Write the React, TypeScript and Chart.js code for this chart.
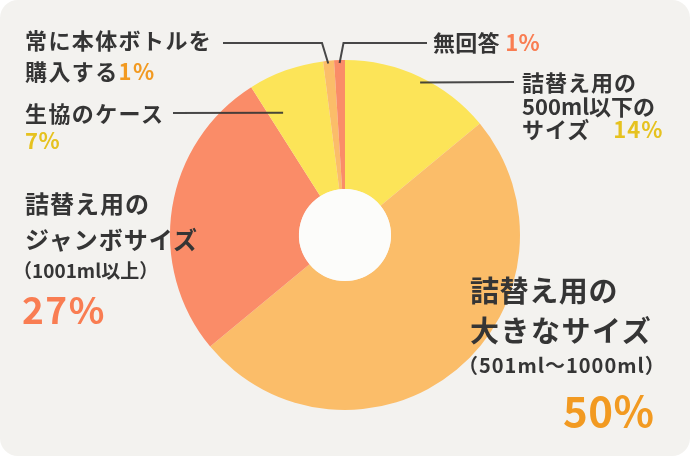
import { useEffect, useRef } from "react"
import { Chart, ArcElement, DoughnutController, type ChartConfiguration, type Plugin } from "chart.js"

Chart.register(ArcElement, DoughnutController)

// slices, clockwise from 12 o'clock
const categories = [
  "詰替え用の500ml以下のサイズ",
  "詰替え用の大きなサイズ（501ml〜1000ml）",
  "詰替え用のジャンボサイズ（1001ml以上）",
  "生協のケース",
  "常に本体ボトルを購入する",
  "無回答",
]
const shares = [14, 50, 27, 7, 1, 1]
const sliceColors = ["#FCE458", "#FBBD69", "#FA8C68", "#FCE458", "#FBBD69", "#FA8C68"]

const FONT = '"Noto Sans CJK JP", "Noto Sans", sans-serif'
const TEXT = "#353535"
const BG = "#F3F2EF"
const HOLE = "#FCFCFA"
const ORANGE = "#F29A21"
const YELLOW = "#E6C21F"
const SALMON = "#F97D52"

// leader lines: slice index, position along the slice (0..1), radius fraction, then bend points
const leaders = [
  { index: 4, t: 0.45, r: 0.985, path: [[322, 43], [223, 43]] },
  { index: 5, t: 0.5, r: 0.983, path: [[343.5, 43], [427, 43]] },
  { index: 0, t: 0.52, r: 0.972, path: [[514, 82]] },
  { index: 3, t: 0.22, r: 0.783, path: [[173, 113]] },
]

const overlay: Plugin<"doughnut"> = {
  id: "overlay",
  afterDatasetsDraw(chart) {
    const ctx = chart.ctx
    const arcs = chart.getDatasetMeta(0).data as any[]
    const { x, y, innerRadius, outerRadius } = arcs[0].getProps(["x", "y", "innerRadius", "outerRadius"], true)
    ctx.save()
    ctx.fillStyle = HOLE
    ctx.beginPath()
    ctx.arc(x, y, innerRadius, 0, Math.PI * 2)
    ctx.fill()

    ctx.strokeStyle = "rgba(52,52,52,0.9)"
    ctx.lineWidth = 2
    for (const l of leaders) {
      const { startAngle, endAngle } = arcs[l.index].getProps(["startAngle", "endAngle"], true)
      const a = startAngle + (endAngle - startAngle) * l.t
      ctx.beginPath()
      ctx.moveTo(x + Math.cos(a) * outerRadius * l.r, y + Math.sin(a) * outerRadius * l.r)
      for (const [px, py] of l.path) ctx.lineTo(px, py)
      ctx.stroke()
    }
    ctx.restore()
  },
}

type LineProps = {
  x: number
  cy: number
  size: number
  spacing?: number
  children: React.ReactNode
}

function Line({ x, cy, size, spacing = 0, children }: LineProps) {
  return (
    <div
      style={{
        position: "absolute",
        left: x,
        top: cy - size * 0.576,
        fontSize: size,
        lineHeight: `${size}px`,
        letterSpacing: spacing,
        fontWeight: 700,
        whiteSpace: "nowrap",
        color: TEXT,
      }}
    >
      {children}
    </div>
  )
}

function Pct({ color, children }: { color: string; children: React.ReactNode }) {
  return <span style={{ color }}>{children}</span>
}

export default function App() {
  const chartRef = useRef<HTMLCanvasElement>(null)
  const chartInstance = useRef<Chart | null>(null)

  useEffect(() => {
    if (!chartRef.current) return
    if (chartInstance.current) chartInstance.current.destroy()
    const ctx = chartRef.current.getContext("2d")
    if (!ctx) return

    const config: ChartConfiguration<"doughnut"> = {
      type: "doughnut",
      data: {
        labels: categories,
        datasets: [
          {
            data: shares,
            backgroundColor: sliceColors,
            borderWidth: 0,
          },
        ],
      },
      options: {
        responsive: false,
        animation: false,
        events: [],
        cutout: "26.3%",
        layout: { padding: { left: 170, right: 170, top: 60, bottom: 46 } },
        plugins: { legend: { display: false }, tooltip: { enabled: false } },
      },
      plugins: [overlay],
    }

    chartInstance.current = new Chart(ctx, config)
    return () => {
      chartInstance.current?.destroy()
      chartInstance.current = null
    }
  }, [])

  return (
    <div
      style={{
        position: "absolute",
        left: 0,
        top: 0,
        width: 690,
        height: 456,
        background: BG,
        borderRadius: 18,
        overflow: "hidden",
        fontFamily: FONT,
      }}
    >
      <canvas ref={chartRef} width={690} height={456} style={{ position: "absolute", left: 0, top: 0 }} />

      <Line x={25} cy={41} size={22} spacing={1.4}>常に本体ボトルを</Line>
      <Line x={25} cy={72} size={22} spacing={1.4}>
        購入する<Pct color={ORANGE}>1%</Pct>
      </Line>

      <Line x={25} cy={114} size={22} spacing={1.4}>生協のケース</Line>
      <Line x={25} cy={141} size={22} spacing={0.5}>
        <Pct color={YELLOW}>7%</Pct>
      </Line>

      <Line x={433} cy={43} size={22} spacing={0.3}>
        無回答 <Pct color={SALMON}>1%</Pct>
      </Line>

      <Line x={522} cy={83} size={22} spacing={1}>詰替え用の</Line>
      <Line x={522} cy={107} size={22} spacing={0}>500ml以下の</Line>
      <Line x={522} cy={130} size={22} spacing={1}>
        サイズ　<Pct color={YELLOW}>14%</Pct>
      </Line>

      <Line x={25} cy={205} size={24} spacing={1}>詰替え用の</Line>
      <Line x={25} cy={241} size={24} spacing={1}>ジャンボサイズ</Line>
      <Line x={13} cy={271} size={19} spacing={0}>（1001ml以上）</Line>
      <Line x={22} cy={311} size={37} spacing={1.5}>
        <Pct color={SALMON}>27%</Pct>
      </Line>

      <Line x={470} cy={292} size={29} spacing={0.6}>詰替え用の</Line>
      <Line x={470} cy={332} size={29} spacing={1.5}>大きなサイズ</Line>
      <Line x={458} cy={367} size={20} spacing={1}>（501ml〜1000ml）</Line>
      <Line x={563} cy={412} size={42} spacing={0.5}>
        <Pct color={ORANGE}>50%</Pct>
      </Line>
    </div>
  )
}
